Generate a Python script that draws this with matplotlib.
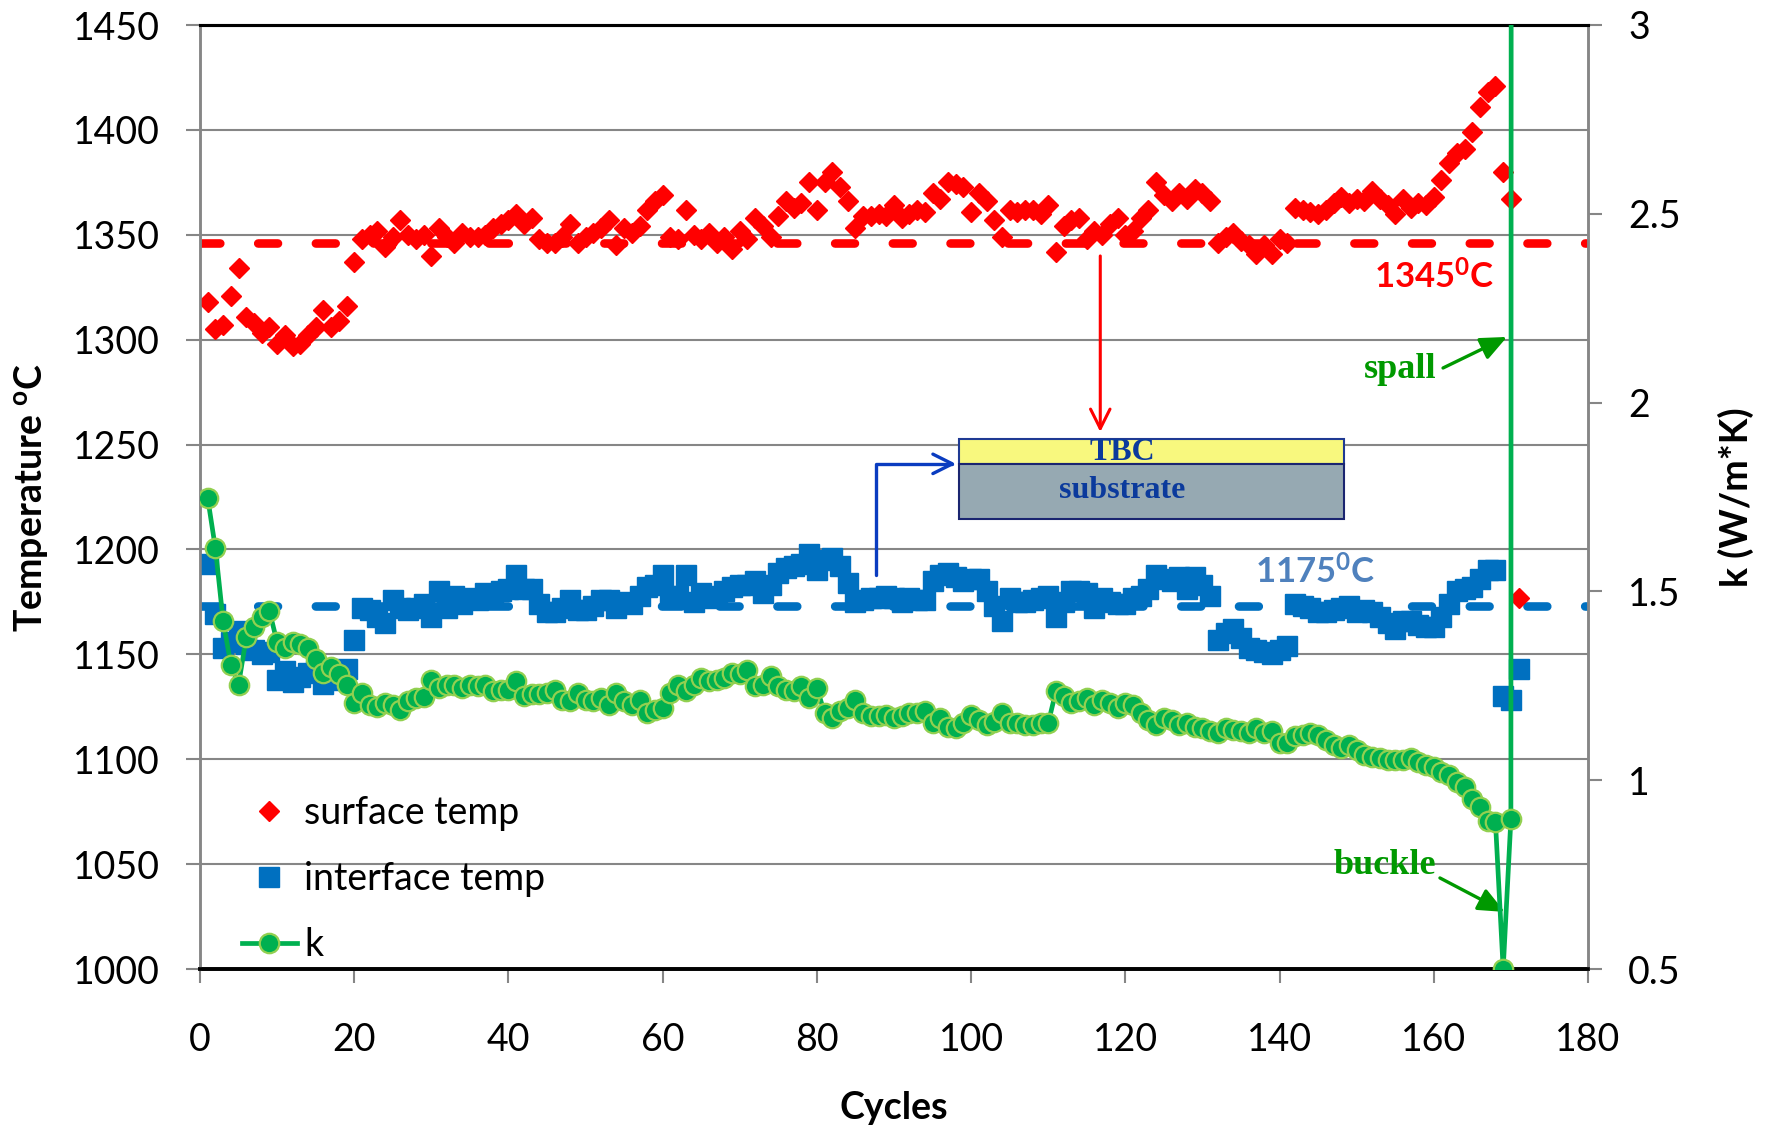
import matplotlib
matplotlib.use('Agg')
import matplotlib.pyplot as plt
from matplotlib.patches import Rectangle

plt.rcParams['font.family'] = ['Lato', 'DejaVu Sans']
plt.rcParams['mathtext.fontset'] = 'custom'
plt.rcParams['mathtext.rm'] = 'Lato'
plt.rcParams['mathtext.bf'] = 'Lato:bold'
plt.rcParams['mathtext.default'] = 'bf'

# ---------------- data ----------------
cycles = list(range(1, 172))

surface_temp = [
    1318, 1305, 1307, 1321, 1334, 1311, 1308, 1303, 1306, 1298,
    1302, 1297, 1298, 1302, 1306, 1314, 1306, 1309, 1316, 1337,
    1348, 1350, 1352, 1344, 1349, 1357, 1350, 1348, 1350, 1340,
    1353, 1349, 1346, 1351, 1349, 1349, 1350, 1353, 1355, 1357,
    1360, 1355, 1358, 1348, 1346, 1346, 1349, 1355, 1346, 1349,
    1351, 1353, 1357, 1345, 1353, 1351, 1354, 1362, 1366, 1369,
    1349, 1348, 1362, 1350, 1348, 1351, 1346, 1349, 1343, 1352,
    1348, 1358, 1354, 1349, 1359, 1366, 1363, 1365, 1375, 1362,
    1375, 1380, 1373, 1366, 1353, 1359, 1359, 1360, 1359, 1364,
    1358, 1360, 1362, 1361, 1370, 1367, 1375, 1374, 1373, 1361,
    1370, 1366, 1357, 1349, 1362, 1361, 1362, 1362, 1360, 1364,
    1342, 1354, 1357, 1358, 1348, 1352, 1350, 1355, 1358, 1350,
    1352, 1358, 1362, 1375, 1369, 1366, 1370, 1367, 1372, 1370,
    1366, 1346, 1349, 1351, 1347, 1345, 1341, 1345, 1341, 1348,
    1346, 1363, 1362, 1361, 1360, 1362, 1365, 1368, 1365, 1367,
    1366, 1371, 1367, 1364, 1360, 1367, 1363, 1365, 1364, 1368,
    1376, 1384, 1389, 1391, 1399, 1411, 1418, 1421, 1380, 1367,
    1177,
]

interface_temp = [
    1193, 1169, 1153, 1156, 1161, 1155, 1152, 1150, 1151, 1138,
    1142, 1137, 1139, 1141, 1142, 1136, 1138, 1140, 1143, 1157,
    1172, 1171, 1168, 1165, 1176, 1172, 1171, 1172, 1174, 1168,
    1180, 1172, 1178, 1174, 1177, 1176, 1179, 1177, 1180, 1181,
    1188, 1181, 1181, 1174, 1170, 1170, 1172, 1176, 1171, 1171,
    1173, 1176, 1176, 1172, 1175, 1174, 1178, 1182, 1183, 1188,
    1178, 1178, 1188, 1175, 1179, 1177, 1178, 1180, 1182, 1183,
    1183, 1185, 1179, 1183, 1189, 1191, 1192, 1193, 1198, 1190,
    1195, 1196, 1192, 1184, 1175, 1176, 1177, 1177, 1178, 1177,
    1175, 1177, 1176, 1176, 1185, 1188, 1189, 1187, 1185, 1186,
    1186, 1180, 1173, 1166, 1177, 1175, 1175, 1176, 1177, 1178,
    1168, 1175, 1180, 1180, 1179, 1172, 1177, 1175, 1174, 1174,
    1177, 1178, 1181, 1188, 1186, 1185, 1187, 1181, 1187, 1183,
    1178, 1157, 1160, 1162, 1158, 1153, 1152, 1151, 1150, 1152,
    1154, 1174, 1173, 1172, 1170, 1170, 1171, 1172, 1173, 1170,
    1171, 1170, 1168, 1165, 1162, 1166, 1166, 1164, 1163, 1163,
    1168, 1174, 1180, 1181, 1182, 1186, 1190, 1190, 1130, 1128,
    1143,
]

k_values = [
    1.747, 1.614, 1.422, 1.306, 1.253, 1.378, 1.405, 1.431, 1.449, 1.365,
    1.351, 1.365, 1.360, 1.350, 1.320, 1.284, 1.300, 1.280, 1.253, 1.204,
    1.231, 1.200, 1.194, 1.205, 1.200, 1.187, 1.209, 1.217, 1.220, 1.266,
    1.244, 1.253, 1.253, 1.244, 1.253, 1.249, 1.253, 1.236, 1.240, 1.240,
    1.262, 1.222, 1.227, 1.227, 1.231, 1.240, 1.213, 1.209, 1.231, 1.213,
    1.209, 1.218, 1.200, 1.231, 1.209, 1.200, 1.213, 1.178, 1.187, 1.191,
    1.231, 1.253, 1.236, 1.253, 1.270, 1.262, 1.266, 1.270, 1.284, 1.280,
    1.293, 1.249, 1.253, 1.276, 1.249, 1.240, 1.236, 1.249, 1.217, 1.244,
    1.178, 1.164, 1.182, 1.191, 1.213, 1.178, 1.169, 1.169, 1.173, 1.164,
    1.169, 1.178, 1.178, 1.182, 1.151, 1.164, 1.142, 1.137, 1.151, 1.173,
    1.160, 1.146, 1.155, 1.178, 1.151, 1.151, 1.146, 1.146, 1.151, 1.151,
    1.236, 1.222, 1.204, 1.209, 1.218, 1.200, 1.213, 1.204, 1.191, 1.204,
    1.200, 1.178, 1.160, 1.146, 1.164, 1.160, 1.146, 1.151, 1.142, 1.138,
    1.129, 1.124, 1.138, 1.133, 1.129, 1.124, 1.138, 1.124, 1.129, 1.098,
    1.098, 1.116, 1.120, 1.124, 1.120, 1.107, 1.093, 1.084, 1.093, 1.080,
    1.067, 1.062, 1.058, 1.053, 1.053, 1.053, 1.058, 1.049, 1.040, 1.036,
    1.022, 1.013, 0.996, 0.982, 0.951, 0.929, 0.893, 0.889, 0.500, 0.896,
    60.0,
]

surface_ref = 1346     # drawn level of "1345 C" line
interface_ref = 1173   # drawn level of "1175 C" line

x_ticks = [0, 20, 40, 60, 80, 100, 120, 140, 160, 180]
temp_ticks = [1000, 1050, 1100, 1150, 1200, 1250, 1300, 1350, 1400, 1450]
k_ticks = [0.5, 1, 1.5, 2, 2.5, 3]
k_tick_labels = ['0.5', '1', '1.5', '2', '2.5', '3']

# ---------------- figure ----------------
W, H = 1767, 1131
fig = plt.figure(figsize=(W / 100, H / 100), dpi=100)
L, R, T, B = 200, 1588, 25, 969
ax = fig.add_axes([L / W, 1 - B / H, (R - L) / W, (B - T) / H])
ax2 = ax.twinx()

RED = '#FF0000'
BLUE = '#0070C0'
GREEN = '#00B050'
GREEN_EDGE = '#92D050'
GRID = '#868686'
FS = 27

ax.set_xlim(0, 180)
ax.set_ylim(1000, 1450)
ax2.set_ylim(0.5, 3)
ax.set_xticks(x_ticks)
ax.set_yticks(temp_ticks)
ax2.set_yticks(k_ticks)
ax2.set_yticklabels(k_tick_labels)

ax.set_axisbelow(True)
ax.yaxis.grid(True, color=GRID, lw=1.5)

# reference dashed lines
ax.axhline(surface_ref, color=RED, lw=6.2, dashes=(2.3, 4.4),
           dash_capstyle='round', zorder=2)
ax.axhline(interface_ref, color=BLUE, lw=6.2, dashes=(2.3, 4.4),
           dash_capstyle='round', zorder=2)

h_int, = ax.plot(cycles, interface_temp, ls='none', marker='s', ms=14,
                 color=BLUE, mec=BLUE, zorder=3, label='interface temp')
h_surf, = ax.plot(cycles, surface_temp, ls='none', marker='D', ms=10.5,
                  color=RED, mec=RED, zorder=4, label='surface temp')
h_k, = ax2.plot(cycles, k_values, color=GREEN, lw=3.4, marker='o', ms=14,
                mfc=GREEN, mec=GREEN_EDGE, mew=1.6, zorder=5, label='k')

# spines
for a in (ax, ax2):
    a.spines['top'].set_color('black')
    a.spines['top'].set_linewidth(2.2)
    a.spines['bottom'].set_color('black')
    a.spines['bottom'].set_linewidth(2.6)
    a.spines['left'].set_color(GRID)
    a.spines['left'].set_linewidth(1.8)
    a.spines['right'].set_color(GRID)
    a.spines['right'].set_linewidth(1.8)

ax.tick_params(axis='x', direction='out', length=10, width=1.5, color=GRID,
               pad=28, labelsize=FS)
ax.tick_params(axis='y', direction='out', length=10, width=1.5, color=GRID,
               pad=19, labelsize=FS)
ax2.tick_params(axis='y', direction='out', length=10, width=1.5, color=GRID,
                pad=19, labelsize=FS)

# axis labels
fig.text(31 / W, 1 - 497 / H, 'Temperature $^{o}$C', rotation=90,
         ha='center', va='center', fontsize=FS, fontweight='bold')
fig.text(1736 / W, 1 - 497 / H, 'k (W/m*K)', rotation=90,
         ha='center', va='center', fontsize=FS, fontweight='bold')
fig.text(894 / W, 1 - 1108 / H, 'Cycles', ha='center', va='center',
         fontsize=FS, fontweight='bold')

# legend
ax2.legend(handles=[h_surf, h_int, h_k],
           labels=['surface temp', 'interface temp', 'k'],
           loc='lower left', bbox_to_anchor=(0.03, 0.006), frameon=False,
           fontsize=FS, handlelength=1.47, handletextpad=0.2,
           labelspacing=0.8, borderpad=0, borderaxespad=0)

# annotations
ax.text(160.1, 1329.9, '1345$^{0}$C', color=RED, fontsize=25,
        fontweight='bold', ha='center', va='center', zorder=6)
ax.text(144.6, 1189.3, '1175$^{0}$C', color='#4F81BD', fontsize=25,
        fontweight='bold', ha='center', va='center', zorder=6)

SERIF = 'Liberation Serif'
SP_GREEN = '#009900'
ax.text(155.7, 1285.6, 'spall', color=SP_GREEN, fontsize=26, family=SERIF,
        fontweight='bold', ha='center', va='center')
ax.annotate('', xy=(169.5, 1301.3), xytext=(161.2, 1286.5),
            arrowprops=dict(arrowstyle='-|>,head_length=0.8,head_width=0.35',
                            color=SP_GREEN, lw=2.4, mutation_scale=20,
                            shrinkA=0, shrinkB=0))
ax.text(153.6, 1049.1, 'buckle', color=SP_GREEN, fontsize=26, family=SERIF,
        fontweight='bold', ha='center', va='center')
ax.annotate('', xy=(169.2, 1027.2), xytext=(160.8, 1043.4),
            arrowprops=dict(arrowstyle='-|>,head_length=0.8,head_width=0.35',
                            color=SP_GREEN, lw=2.4, mutation_scale=20,
                            shrinkA=0, shrinkB=0))

# red arrow down to TBC
ax.annotate('', xy=(116.75, 1256.0), xytext=(116.75, 1339.9),
            arrowprops=dict(arrowstyle='->,head_length=0.7,head_width=0.35',
                            color=RED, lw=2.2, mutation_scale=20,
                            shrinkA=0, shrinkB=0), zorder=6)
# blue elbow arrow to interface
ax.annotate('', xy=(98.05, 1240.8), xytext=(87.66, 1187.8),
            arrowprops=dict(arrowstyle='->,head_length=0.7,head_width=0.35',
                            color='#0A3CC0', lw=2.4, mutation_scale=20,
                            connectionstyle='angle,angleA=90,angleB=0,rad=0',
                            shrinkA=0, shrinkB=0), zorder=6)

# TBC / substrate schematic
bx0, bx1 = 98.44, 148.4
ax.add_patch(Rectangle((bx0, 1240.8), bx1 - bx0, 1252.7 - 1240.8,
                       facecolor='#F8F87E', edgecolor='#1F3A93', lw=1.5,
                       zorder=5))
ax.add_patch(Rectangle((bx0, 1214.5), bx1 - bx0, 1240.8 - 1214.5,
                       facecolor='#96A9B2', edgecolor='#1A2570', lw=1.5,
                       zorder=5))
ax.text(119.6, 1246.2, 'TBC', color='#0B3A9C', fontsize=23, family=SERIF,
        fontweight='bold', ha='center', va='center', zorder=6)
ax.text(119.6, 1228.0, 'substrate', color='#0B3A9C', fontsize=23,
        family=SERIF, fontweight='bold', ha='center', va='center', zorder=6)

fig.savefig('out.png', dpi=100, facecolor='white')
